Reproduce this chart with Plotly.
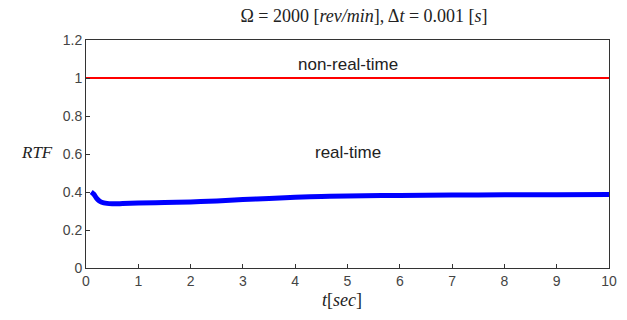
import plotly.graph_objects as go

t_blue = [0.1, 0.15, 0.2, 0.25, 0.3, 0.4, 0.5, 0.7, 1.0, 1.5, 2.0, 2.5, 3.0, 3.5, 4.0, 4.5, 5.0, 6.0, 7.0, 8.0, 9.0, 10.0]
rtf_blue = [0.400, 0.388, 0.368, 0.354, 0.346, 0.340, 0.338, 0.339, 0.342, 0.345, 0.348, 0.353, 0.360, 0.366, 0.372, 0.376, 0.379, 0.382, 0.384, 0.385, 0.386, 0.387]
t_red = [0, 10]
rtf_red = [1, 1]
x_ticks = [0, 1, 2, 3, 4, 5, 6, 7, 8, 9, 10]
y_ticks = [0, 0.2, 0.4, 0.6, 0.8, 1, 1.2]
y_tick_labels = ["0", "0.2", "0.4", "0.6", "0.8", "1", "1.2"]

fig = go.Figure()
fig.add_trace(go.Scatter(x=t_red, y=rtf_red, mode="lines", line=dict(color="#ff0000", width=2), showlegend=False))
fig.add_trace(go.Scatter(x=t_blue, y=rtf_blue, mode="lines", line=dict(color="#0000ff", width=5, shape="spline"), showlegend=False))

axis_common = dict(showgrid=False, zeroline=False, showline=True, linecolor="#333333", linewidth=1,
                   mirror=True, ticks="inside", ticklen=4, tickcolor="#333333",
                   tickfont=dict(family="Liberation Sans, Arial", size=14, color="#444444"))
fig.update_xaxes(range=[0, 10], tickvals=x_ticks, **axis_common)
fig.update_yaxes(range=[0, 1.2], tickvals=y_ticks, ticktext=y_tick_labels, **axis_common)

PL, PR, PT, PB = 86, 617, 40, 268
W, H = 627, 320
pw, ph = PR - PL, PB - PT

fig.update_layout(
    width=W, height=H,
    margin=dict(l=PL, r=W - PR, t=PT, b=H - PB),
    paper_bgcolor="white", plot_bgcolor="white",
    title=dict(text="Ω = 2000 [<i>rev/min</i>], Δ<i>t</i> = 0.001 [<i>s</i>]",
               x=364 / W, xanchor="center", y=1 - 16 / H, yanchor="middle",
               font=dict(family="Liberation Serif, DejaVu Serif", size=18, color="#222222")),
    annotations=[
        dict(text="non-real-time", x=5, y=1.07, xref="x", yref="y", showarrow=False,
             font=dict(family="Liberation Sans, Arial", size=17, color="#222222")),
        dict(text="real-time", x=5, y=0.61, xref="x", yref="y", showarrow=False,
             font=dict(family="Liberation Sans, Arial", size=17, color="#222222")),
        dict(text="<i>RTF</i>", x=(36 - PL) / pw, y=(PB - 152) / ph, xref="paper", yref="paper",
             showarrow=False, xanchor="center", yanchor="middle",
             font=dict(family="Liberation Serif, DejaVu Serif", size=17, color="#222222")),
        dict(text="<i>t</i>[<i>sec</i>]", x=(346 - PL) / pw, y=-(300 - PB) / ph, xref="paper", yref="paper",
             showarrow=False, xanchor="center", yanchor="middle",
             font=dict(family="Liberation Serif, DejaVu Serif", size=18, color="#222222")),
    ],
)

fig.write_html("out.html", config={"displayModeBar": False},
               post_script="document.body.style.margin='0';")
